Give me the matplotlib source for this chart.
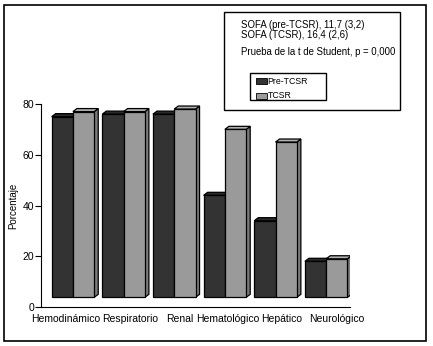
import matplotlib
matplotlib.use('Agg')
import matplotlib.pyplot as plt
from matplotlib.patches import Polygon, Rectangle
import numpy as np

plt.rcParams['font.family'] = ['Liberation Sans', 'DejaVu Sans']

categories = ["Hemodinámico", "Respiratorio", "Renal", "Hematológico", "Hepático", "Neurológico"]
pre_tcsr = [75, 76, 76, 44, 34, 18]
tcsr = [77, 77, 78, 70, 65, 19]
series_names = ["Pre-TCSR", "TCSR"]
yticks = [0, 20, 40, 60, 80]
# the original staggers its category labels a little off the bar centres
label_shift = [-0.14, 0.13, 0.11, 0.06, 0.13, 0.2]

W, H = 433, 346
fig = plt.figure(figsize=(W / 100, H / 100), dpi=100)
ax = fig.add_axes([41 / W, (H - 307) / H, 309 / W, 203 / H])

fs = 7.5
w = 0.42
base = 3.8      # front face sits slightly above the floor (3D look)
dx, dy = 0.08, 1.2

face = ["#333333", "#9a9a9a"]
side = ["#222222", "#7a7a7a"]
top = ["#2a2a2a", "#b0b0b0"]

x = np.arange(len(categories))
for k, vals in enumerate([pre_tcsr, tcsr]):
  xs = x - w / 2 + k * w
  vals = np.array(vals)
  ax.bar(xs, vals - base, w, bottom=base, color=face[k], edgecolor="black",
         linewidth=0.9, zorder=3 + k * 0.01)
  for xi, v in zip(xs, vals):
    l, r = xi - w / 2, xi + w / 2
    ax.add_patch(Polygon([(r, base), (r + dx, base + dy), (r + dx, v + dy), (r, v)],
                         closed=True, facecolor=side[k], edgecolor="black",
                         linewidth=0.9, zorder=2 + k * 0.01))
    ax.add_patch(Polygon([(l, v), (l + dx, v + dy), (r + dx, v + dy), (r, v)],
                         closed=True, facecolor=top[k], edgecolor="black",
                         linewidth=0.9, zorder=2 + k * 0.01))

ax.set_xlim(-0.63, 5.47)
ax.set_ylim(0, 80)
ax.set_yticks(yticks)
ax.set_yticklabels([str(t) for t in yticks], fontsize=fs)
ax.tick_params(axis="y", direction="out", length=4, width=0.8, pad=1)
ax.set_xticks(x + np.array(label_shift))
ax.set_xticklabels(categories, fontsize=fs)
ax.tick_params(axis="x", length=0, pad=5)
for s in ["top", "right"]:
  ax.spines[s].set_visible(False)
ax.spines["left"].set_linewidth(0.8)
ax.spines["bottom"].set_linewidth(0.8)
ax.set_ylabel("Porcentaje", fontsize=7, labelpad=3)

# outer frame
fig.patches.append(Rectangle((4 / W, 1 - 341 / H), 422 / W, 336 / H, transform=fig.transFigure,
                             fill=False, edgecolor="black", linewidth=1.2))

# annotation box
fs2 = 6.9
fig.patches.append(Rectangle((224 / W, 1 - 110 / H), 176 / W, 98 / H, transform=fig.transFigure,
                             fill=False, edgecolor="black", linewidth=1.0))
fig.text(241 / W, 1 - 25 / H, "SOFA (pre-TCSR), 11,7 (3,2)", fontsize=fs2, va="center")
fig.text(241 / W, 1 - 35 / H, "SOFA (TCSR), 16,4 (2,6)", fontsize=fs2, va="center")
fig.text(241 / W, 1 - 52 / H, "Prueba de la t de Student, p = 0,000", fontsize=fs2, va="center")

# legend box
fig.patches.append(Rectangle((250 / W, 1 - 100 / H), 76 / W, 27 / H, transform=fig.transFigure,
                             fill=False, edgecolor="black", linewidth=1.0))
for k, (name, yy) in enumerate(zip(series_names, [81, 96])):
  fig.patches.append(Rectangle((256 / W, 1 - (yy + 3) / H), 11 / W, 6 / H,
                               transform=fig.transFigure, facecolor=face[k],
                               edgecolor="black", linewidth=0.6))
  fig.text(267.5 / W, 1 - yy / H, name, fontsize=6.3, va="center")

plt.savefig("out.png", dpi=100)
